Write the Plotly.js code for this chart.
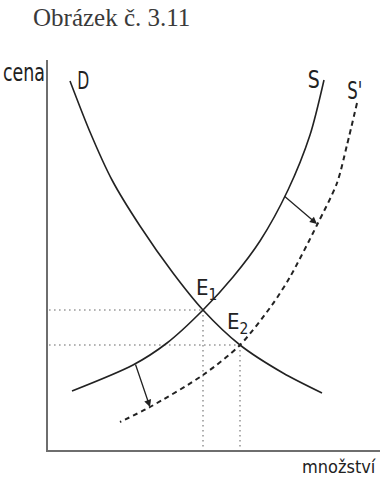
<!DOCTYPE html>
<html>
<head>
<meta charset="utf-8">
<script src="https://cdn.plot.ly/plotly-3.0.1.min.js"></script>
<style>
  html, body { margin: 0; padding: 0; background: #fff; }
  #chart { width: 380px; height: 479px; }
</style>
</head>
<body>
<div id="chart"></div>
<script>
// Curve points (quantity, price)
const dQ = [22, 42, 64, 92, 125, 155, 192, 235, 274];
const dP = [369, 318, 270, 224, 177, 140, 105, 77, 57];

const sQ = [276, 262, 240, 212, 185, 155, 119, 85, 24];
const sP = [370, 315, 260, 209, 173, 140, 107, 85, 59];

const s2Q = [309, 299, 289, 269, 242, 224, 192, 155, 102, 72];
const s2P = [347, 305, 267, 225, 173, 145, 105, 75, 43, 28];

// Equilibria
const eqNames = ['E<sub>1</sub>', 'E<sub>2</sub>'];
const eqQ = [155, 192];
const eqP = [140, 105];

// Shift arrows (from a point on S to a point on S')
const shiftFromQ = [235, 87];
const shiftFromP = [255, 87];
const shiftToQ = [269, 102];
const shiftToP = [226, 43];

const curveNames = ['D', 'S', "S'"];
const titleText = 'Obrázek č. 3.11';
const yLabel = 'cena';
const xLabel = 'množství';

const sans = '"DejaVu Sans Condensed", "Liberation Sans", sans-serif';
const ink = '#222222';

const traces = [
  { x: dQ, y: dP, mode: 'lines', line: { color: ink, width: 1.6, shape: 'spline', smoothing: 0.8 }, hoverinfo: 'skip' },
  { x: sQ, y: sP, mode: 'lines', line: { color: ink, width: 1.6, shape: 'spline', smoothing: 0.8 }, hoverinfo: 'skip' },
  { x: s2Q, y: s2P, mode: 'lines', line: { color: ink, width: 2, dash: '5px,4px', shape: 'spline', smoothing: 0.8 }, hoverinfo: 'skip' }
];

const shapes = [];
for (let i = 0; i < eqQ.length; i++) {
  shapes.push({ type: 'line', xref: 'x', yref: 'y', x0: 1, x1: eqQ[i], y0: eqP[i], y1: eqP[i],
    line: { color: '#9a9a9a', width: 1.6, dash: '1.6px,3.4px' }, layer: 'below' });
  shapes.push({ type: 'line', xref: 'x', yref: 'y', x0: eqQ[i], x1: eqQ[i], y0: eqP[i], y1: -4,
    line: { color: '#9a9a9a', width: 1.6, dash: '1.6px,3.4px' }, layer: 'below' });
}

const annotations = [];
const squeeze = {}; // annotation index -> target text width in px (condensed look)
// curve labels at the top end of each curve
const labelShift = [[13, 0], [-10, 0], [-2, 12]];
const labelWidth = [12, 12, 15];
const tops = [[dQ[0], dP[0]], [sQ[0], sP[0]], [s2Q[0], s2P[0]]];
for (let i = 0; i < 3; i++) {
  squeeze[annotations.length] = labelWidth[i];
  annotations.push({ x: tops[i][0], y: tops[i][1], xref: 'x', yref: 'y', text: curveNames[i],
    showarrow: false, xshift: labelShift[i][0], yshift: labelShift[i][1],
    font: { family: sans, size: 24, color: ink } });
}
// equilibrium labels
const eqShift = [[3, 21], [-3, 22]];
for (let i = 0; i < eqQ.length; i++) {
  annotations.push({ x: eqQ[i], y: eqP[i], xref: 'x', yref: 'y', text: eqNames[i],
    showarrow: false, xshift: eqShift[i][0], yshift: eqShift[i][1],
    font: { family: sans, size: 22, color: ink } });
}
// shift arrows
for (let i = 0; i < shiftFromQ.length; i++) {
  annotations.push({ x: shiftToQ[i], y: shiftToP[i], ax: shiftFromQ[i], ay: shiftFromP[i],
    xref: 'x', yref: 'y', axref: 'x', ayref: 'y', text: '', showarrow: true,
    arrowhead: 2, arrowsize: 1.1, arrowwidth: 1.3, arrowcolor: ink, standoff: 0, startstandoff: 0 });
}
// axis labels
squeeze[annotations.length] = 42;
annotations.push({ xref: 'paper', yref: 'paper', x: 0, y: 1, xanchor: 'center', yanchor: 'top',
  xshift: -24, yshift: 3, text: yLabel, showarrow: false, font: { family: sans, size: 24, color: ink } });
annotations.push({ xref: 'paper', yref: 'paper', x: 1, y: 0, xanchor: 'right', yanchor: 'top',
  xshift: -2, yshift: -4, text: xLabel, showarrow: false, font: { family: sans, size: 18, color: ink } });

const layout = {
  width: 380, height: 479,
  margin: { l: 48, r: 0, t: 60, b: 29, pad: 0 },
  paper_bgcolor: '#fff', plot_bgcolor: '#fff',
  showlegend: false,
  title: { text: titleText, xref: 'container', yref: 'container', x: 33 / 380, xanchor: 'left',
    y: 1 - 8 / 479, yanchor: 'top', font: { family: '"Liberation Serif", "DejaVu Serif", serif', size: 25, color: '#3a3a3a' },
    pad: { t: 0, b: 0, l: 0, r: 0 } },
  xaxis: { range: [0, 332], showgrid: false, zeroline: false, showticklabels: false, ticks: '',
    showline: true, linecolor: '#6e6e6e', linewidth: 2, fixedrange: true },
  yaxis: { range: [0, 390], showgrid: false, zeroline: false, showticklabels: false, ticks: '',
    showline: true, linecolor: '#6e6e6e', linewidth: 2, fixedrange: true },
  shapes: shapes,
  annotations: annotations
};

Plotly.newPlot('chart', traces, layout, { staticPlot: true, displayModeBar: false }).then(function (gd) {
  gd.querySelectorAll('.annotation').forEach(function (g) {
    const idx = +g.getAttribute('data-index');
    const target = squeeze[idx];
    if (!target) return;
    const t = g.querySelector('text.annotation-text');
    if (!t) return;
    const w = t.getComputedTextLength();
    if (w > target) {
      t.setAttribute('textLength', target);
      t.setAttribute('lengthAdjust', 'spacingAndGlyphs');
    }
  });
});
</script>
</body>
</html>
